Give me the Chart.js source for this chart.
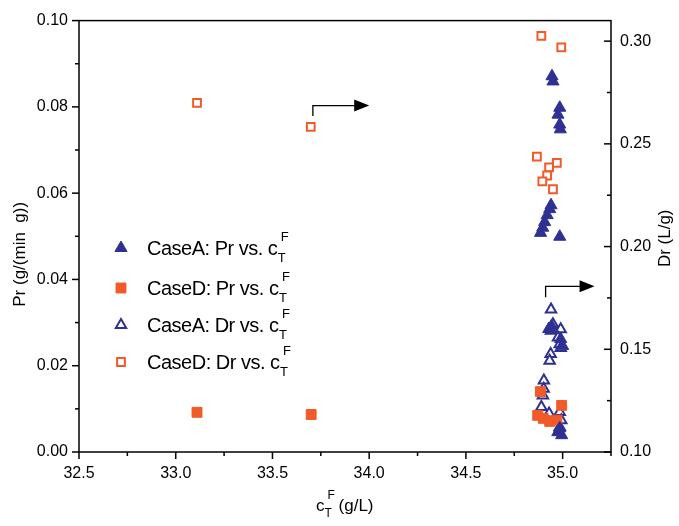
<!DOCTYPE html>
<html lang="en">
<head>
  <meta charset="UTF-8">
  <title>Pr and Dr vs. feed concentration</title>
  <script src="https://cdn.jsdelivr.net/npm/chart.js"></script>
  <style>
    * {
      margin: 0;
      padding: 0;
      box-sizing: border-box;
    }

    body {
      background: #ffffff;
      width: 679px;
      height: 526px;
      overflow: hidden;
    }
  </style>
</head>
<body>
  <canvas id="prChart" width="679" height="526"></canvas>

  <script>
    const navy = '#2e3192';
    const orange = '#f15a29';
    const fontFamily = '"Liberation Sans", Arial, sans-serif';

    // Case A, Pr (left axis)
    const caseAPrX = [34.945, 34.95, 34.985, 34.976, 34.985, 34.988, 34.94, 34.933, 34.92, 34.907,
                      34.897, 34.886, 34.985, 34.928, 34.943, 34.99, 35.0, 34.975, 34.995, 34.985];
    const caseAPrY = [0.0871, 0.0859, 0.0798, 0.0782, 0.0759, 0.0748, 0.0572, 0.0563, 0.0549, 0.0533,
                      0.0520, 0.0508, 0.0499, 0.0285, 0.0292, 0.0262, 0.0246, 0.0046, 0.0039, 0.0055];

    // Case D, Pr (left axis)
    const caseDPrX = [33.11, 33.70, 34.885, 34.871, 34.90, 34.933, 34.995, 34.97];
    const caseDPrY = [0.0092, 0.0087, 0.0140, 0.0085, 0.0078, 0.0071, 0.0108, 0.0074];

    // Case A, Dr (right axis)
    const caseADrX = [34.94, 34.95, 34.99, 34.94, 34.976, 34.985, 34.99, 34.938, 34.933, 34.903,
                      34.902, 34.898, 34.89, 34.93, 34.985, 34.993, 34.985];
    const caseADrY = [0.1694, 0.1622, 0.1598, 0.159, 0.1557, 0.1525, 0.1506, 0.1477, 0.1444, 0.1348,
                      0.1308, 0.1275, 0.1219, 0.1187, 0.1195, 0.1155, 0.1122];

    // Case D, Dr (right axis)
    const caseDDrX = [33.11, 33.698, 34.89, 34.993, 34.867, 34.97, 34.93, 34.92, 34.895, 34.95];
    const caseDDrY = [0.270, 0.2583, 0.3026, 0.297, 0.2438, 0.2407, 0.2385, 0.2346, 0.2317, 0.2279];

    const xTicks = [32.5, 33.0, 33.5, 34.0, 34.5, 35.0];
    const prTicks = [0.00, 0.02, 0.04, 0.06, 0.08, 0.10];
    const drTicks = [0.10, 0.15, 0.20, 0.25, 0.30];

    const legendNames = ['CaseA: Pr vs. c', 'CaseD: Pr vs. c', 'CaseA: Dr vs. c', 'CaseD: Dr vs. c'];

    function toPoints(xs, ys) {
      return xs.map((v, i) => ({ x: v, y: ys[i] }));
    }

    // draws "c" with subscript T and superscript F, returns end x
    function drawCT(ctx, x, y, size, subSize) {
      ctx.font = size + 'px ' + fontFamily;
      ctx.fillText('c', x, y);
      const w = ctx.measureText('c').width;
      ctx.font = subSize + 'px ' + fontFamily;
      ctx.fillText('T', x + w, y + subSize * 0.5);
      ctx.fillText('F', x + w + 3, y - size * 0.68);
      return x + w + ctx.measureText('T').width + 2;
    }

    function drawMinorTicks(ctx, scale, from, to, step, every, side, edge) {
      const n = Math.round((to - from) / step);
      for (let i = 0; i <= n; i++) {
        const v = from + i * step;
        const len = (i % every === 0) ? 7 : 4;
        const p = scale.getPixelForValue(v);
        ctx.beginPath();
        if (side === 'bottom') {
          ctx.moveTo(p, edge);
          ctx.lineTo(p, edge + len);
        } else {
          // left ticks point outward, right ticks point inward
          ctx.moveTo(edge, p);
          ctx.lineTo(edge - len, p);
        }
        ctx.stroke();
      }
    }

    function drawArrow(ctx, x0, y0, y1, x1) {
      ctx.beginPath();
      ctx.moveTo(x0, y0);
      ctx.lineTo(x0, y1);
      ctx.lineTo(x1 - 12, y1);
      ctx.stroke();
      ctx.beginPath();
      ctx.moveTo(x1, y1);
      ctx.lineTo(x1 - 15, y1 - 6);
      ctx.lineTo(x1 - 15, y1 + 6);
      ctx.closePath();
      ctx.fill();
    }

    // arrows pointing to the right axis, in data units (x, Pr)
    const arrowNotes = [
      { x: 33.709, yFrom: 0.0779, yTo: 0.0803, xTo: 34.0 },
      { x: 34.912, yFrom: 0.0359, yTo: 0.0384, xTo: 35.165 }
    ];

    const decorations = {
      id: 'decorations',
      afterDraw(chart) {
        const { ctx, chartArea: a, scales } = chart;
        const xs = scales.x, ys = scales.y, y2 = scales.y2;
        ctx.save();
        ctx.strokeStyle = '#000';
        ctx.fillStyle = '#000';
        ctx.lineWidth = 1.5;
        ctx.strokeRect(a.left, a.top, a.right - a.left, a.bottom - a.top);

        drawMinorTicks(ctx, xs, 32.5, 35.25, 0.25, 2, 'bottom', a.bottom);
        drawMinorTicks(ctx, ys, 0, 0.1, 0.01, 2, 'left', a.left);
        drawMinorTicks(ctx, y2, 0.1, 0.3, 0.025, 2, 'right', a.right);

        // arrows
        ctx.lineWidth = 1.3;
        arrowNotes.forEach(n => {
          drawArrow(ctx, xs.getPixelForValue(n.x), ys.getPixelForValue(n.yFrom),
                    ys.getPixelForValue(n.yTo), xs.getPixelForValue(n.xTo));
        });

        // axis titles
        ctx.textBaseline = 'alphabetic';
        ctx.textAlign = 'center';
        ctx.font = '17px ' + fontFamily;
        ctx.save();
        ctx.translate(25, (a.top + a.bottom) / 2 + 18);
        ctx.rotate(-Math.PI / 2);
        ctx.fillText('Pr (g/(min  g))', 0, 0);
        ctx.restore();

        ctx.save();
        ctx.translate(670, (a.top + a.bottom) / 2 + 2);
        ctx.rotate(-Math.PI / 2);
        ctx.fillText('Dr (L/g)', 0, 0);
        ctx.restore();

        ctx.textAlign = 'left';
        let tx = drawCT(ctx, 316, 511, 17, 12);
        ctx.font = '17px ' + fontFamily;
        ctx.fillText(' (g/L)', tx, 511);

        // legend
        const rows = [248, 288, 325, 362];
        const styles = [
          { ps: 'triangle', r: 7, fill: navy, stroke: navy, bw: 1 },
          { ps: 'rect', r: 7, fill: orange, stroke: orange, bw: 1 },
          { ps: 'triangle', r: 6, fill: '#fff', stroke: navy, bw: 2 },
          { ps: 'rect', r: 5.5, fill: '#fff', stroke: orange, bw: 2 }
        ];
        rows.forEach((ry, i) => {
          const s = styles[i];
          ctx.fillStyle = s.fill;
          ctx.strokeStyle = s.stroke;
          ctx.lineWidth = s.bw;
          Chart.helpers.drawPoint(ctx, { pointStyle: s.ps, radius: s.r, borderWidth: s.bw, rotation: 0 }, 121, ry);
          ctx.fillStyle = '#000';
          ctx.font = '20px ' + fontFamily;
          ctx.letterSpacing = '-0.5px';
          const label = legendNames[i].slice(0, -1);
          ctx.fillText(label, 147, ry + 7);
          const w = ctx.measureText(label).width;
          ctx.letterSpacing = '0px';
          drawCT(ctx, 147 + w, ry + 7, 20, 13);
        });
        ctx.restore();
      }
    };

    const tickFont = { family: fontFamily, size: 16 };

    const ctx = document.getElementById('prChart').getContext('2d');
    const prChart = new Chart(ctx, {
      type: 'scatter',
      data: {
        datasets: [
          {
            label: legendNames[0],
            data: toPoints(caseAPrX, caseAPrY),
            yAxisID: 'y',
            pointStyle: 'triangle',
            pointRadius: 7,
            backgroundColor: navy,
            borderColor: navy,
            borderWidth: 1
          },
          {
            label: legendNames[1],
            data: toPoints(caseDPrX, caseDPrY),
            yAxisID: 'y',
            pointStyle: 'rect',
            pointRadius: 7,
            backgroundColor: orange,
            borderColor: orange,
            borderWidth: 1
          },
          {
            label: legendNames[2],
            data: toPoints(caseADrX, caseADrY),
            yAxisID: 'y2',
            pointStyle: 'triangle',
            pointRadius: 6,
            backgroundColor: '#ffffff',
            borderColor: navy,
            borderWidth: 2
          },
          {
            label: legendNames[3],
            data: toPoints(caseDDrX, caseDDrY),
            yAxisID: 'y2',
            pointStyle: 'rect',
            pointRadius: 5.5,
            backgroundColor: '#ffffff',
            borderColor: orange,
            borderWidth: 2
          }
        ]
      },
      options: {
        responsive: false,
        animation: false,
        devicePixelRatio: 1,
        layout: { padding: { top: 17, left: 0, right: 0, bottom: 0 } },
        plugins: {
          legend: { display: false },
          tooltip: { enabled: false }
        },
        scales: {
          x: {
            type: 'linear',
            position: 'bottom',
            min: 32.5,
            max: 35.25,
            afterBuildTicks: s => { s.ticks = xTicks.map(v => ({ value: v })); },
            afterFit: s => { s.height = 74; },
            grid: { display: false, drawTicks: false },
            border: { display: false },
            ticks: {
              color: '#000',
              font: tickFont,
              padding: 12,
              maxRotation: 0,
              autoSkip: false,
              callback: v => v.toFixed(1)
            }
          },
          y: {
            type: 'linear',
            position: 'left',
            min: 0,
            max: 0.1,
            afterBuildTicks: s => { s.ticks = prTicks.map(v => ({ value: v })); },
            afterFit: s => { s.width = 79; },
            grid: { display: false, drawTicks: false },
            border: { display: false },
            ticks: {
              color: '#000',
              font: tickFont,
              padding: 11,
              autoSkip: false,
              callback: v => v.toFixed(2)
            }
          },
          y2: {
            type: 'linear',
            position: 'right',
            min: 0.1,
            max: 0.31,
            afterBuildTicks: s => { s.ticks = drTicks.map(v => ({ value: v })); },
            afterFit: s => { s.width = 68; },
            grid: { display: false, drawTicks: false },
            border: { display: false },
            ticks: {
              color: '#000',
              font: tickFont,
              padding: 9,
              autoSkip: false,
              callback: v => v.toFixed(2)
            }
          }
        }
      },
      plugins: [decorations]
    });
  </script>
</body>
</html>
